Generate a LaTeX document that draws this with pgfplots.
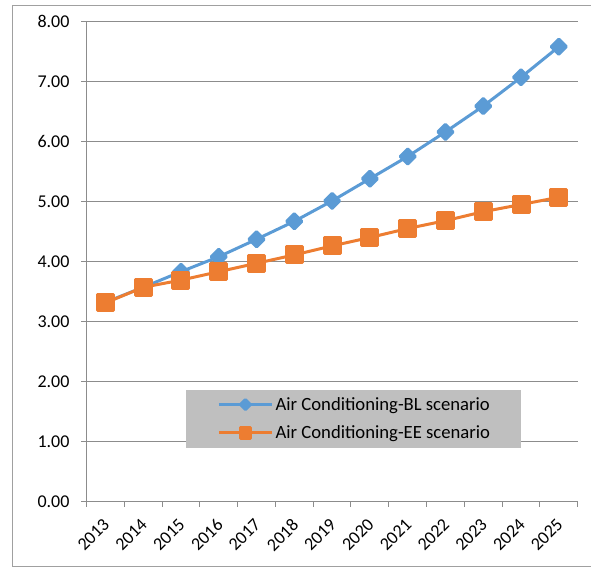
\documentclass[border=0pt]{standalone}
\usepackage{fontspec}
\setmainfont{Carlito}
\usepackage{pgfplots}
\pgfplotsset{compat=1.18}
\definecolor{blBlue}{HTML}{5B9BD5}
\definecolor{eeOrange}{HTML}{ED7D31}
\definecolor{gridGray}{HTML}{8C8C8C}
\definecolor{frameGray}{HTML}{A0A0A0}
\definecolor{legendGray}{HTML}{BFBFBF}
\begin{document}
\begin{tikzpicture}
% page extent and the chart-area border (units of 0.75pt)
\begin{scope}[x=0.75pt,y=0.75pt]
\useasboundingbox (-86.5,-66.5) rectangle (504.5,501.5);
\draw[frameGray, line width=0.75pt] (504.5,496.2) -- (-73.5,496.2) -- (-73.5,-65.2) -- (504.5,-65.2);
\end{scope}
\begin{axis}[
  at={(0,0)}, anchor=south west,
  scale only axis, width=368.4pt, height=360pt,
  xmin=-0.5, xmax=12.5, ymin=0, ymax=8,
  xtick={0,...,12},
  xticklabels={2013,2014,2015,2016,2017,2018,2019,2020,2021,2022,2023,2024,2025},
  minor xtick={-0.5,0.5,...,12.5},
  ytick={0,...,8},
  major x tick style={draw=none},
  minor x tick style={draw=gridGray, line width=0.75pt},
  y tick style={draw=gridGray, line width=0.75pt},
  major tick length=3.75pt, minor tick length=3.75pt,
  tick align=outside, tick pos=left,
  axis x line*=bottom, axis y line*=left,
  axis line style={draw=gridGray, line width=0.75pt},
  ymajorgrids, major grid style={draw=gridGray, line width=0.75pt},
  /pgf/number format/assume math mode=true,
  tick label style={font=\fontsize{13.5}{15}\selectfont},
  yticklabel style={xshift=-5.5pt, /pgf/number format/.cd, fixed, fixed zerofill, precision=2},
  xticklabel style={xshift=-2.5pt, yshift=-8pt, rotate=45, anchor=north east, inner sep=0pt},
  % legend sample: a 40pt line with a smaller copy of the plot mark in the middle
  legend image code/.code={%
    \draw[#1, mark=none] (0pt,0pt) -- (40pt,0pt);
    \draw[#1, mark size=0.65\pgfplotmarksize] plot coordinates {(20pt,0pt)};},
  legend style={at={(0.2026,0.2338)}, anchor=north west, fill=legendGray, draw=none,
      font=\fontsize{14}{16}\selectfont, nodes={inner sep=0pt, minimum height=21.2pt},
      column sep=1.5pt, inner xsep=23.25pt, inner ysep=0.65pt},
  legend cell align=left,
]
\addplot[blBlue, line width=2.25pt, line join=round, mark=square*, mark size=4pt,
  mark options={rotate=45, draw=none, fill=blBlue}]
  coordinates {(0,3.32) (1,3.57) (2,3.83) (3,4.08) (4,4.37) (5,4.67) (6,5.01)
               (7,5.38) (8,5.75) (9,6.16) (10,6.59) (11,7.07) (12,7.58)};
\addlegendentry{Air Conditioning-BL scenario}
\addplot[eeOrange, line width=2.25pt, line join=round, mark=square*, mark size=6pt,
  mark options={draw=none, fill=eeOrange}]
  coordinates {(0,3.31) (1,3.57) (2,3.69) (3,3.83) (4,3.97) (5,4.11) (6,4.26)
               (7,4.40) (8,4.55) (9,4.68) (10,4.83) (11,4.95) (12,5.07)};
\addlegendentry{Air Conditioning-EE scenario}
\end{axis}
\end{tikzpicture}
\end{document}
